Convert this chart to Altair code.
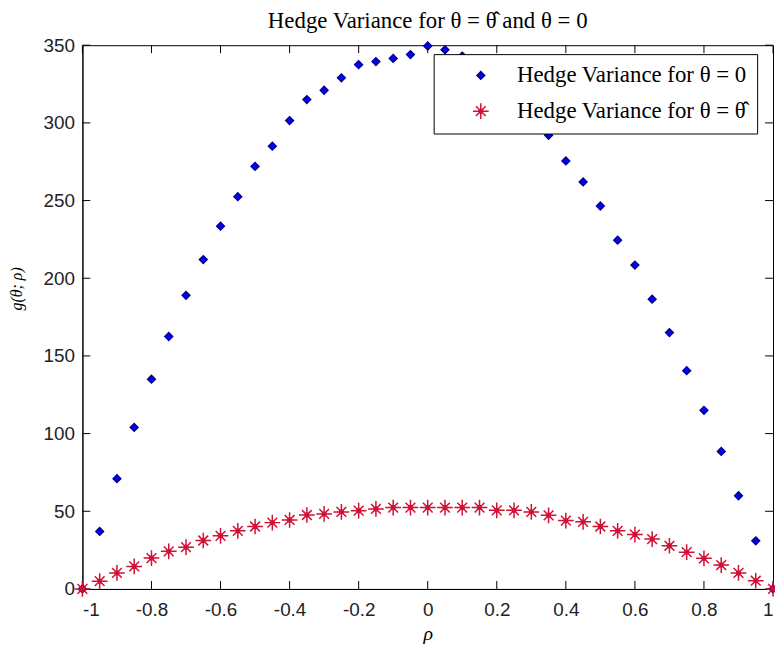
import altair as alt
import pandas as pd

rho = [-1.0, -0.95, -0.9, -0.85, -0.8, -0.75, -0.7, -0.65, -0.6, -0.55, -0.5,
       -0.45, -0.4, -0.35, -0.3, -0.25, -0.2, -0.15, -0.1, -0.05, 0.0,
       0.05, 0.1, 0.15, 0.2, 0.25, 0.3, 0.35, 0.4, 0.45, 0.5,
       0.55, 0.6, 0.65, 0.7, 0.75, 0.8, 0.85, 0.9, 0.95, 1.0]

var_theta0 = [0, 37, 71, 104, 135, 162.5, 189, 212, 233.5, 252.5, 272,
              285, 301.5, 315, 321, 329, 337.5, 339.5, 341.5, 344, 349.5,
              347, 343, 336, 327, 316, 305, 292, 275.5, 262, 246.5,
              224.5, 208.5, 186.5, 165, 140.5, 115, 88.5, 60, 31, 0]

var_thetahat = [0, 5, 10.3, 14.5, 19.9, 24.2, 26.9, 31.2, 34.2, 37.4, 40.2,
                42.7, 44.4, 47.6, 48.3, 49.6, 50.4, 51.5, 52.4, 52.4, 52.4,
                52.4, 52.4, 52.4, 50.6, 50.6, 49.6, 47.4, 44.0, 43.2, 40.2,
                37.4, 35.0, 32.1, 27.8, 23.7, 19.7, 15.4, 10.3, 5.3, 0]

series_names = ["Hedge Variance for θ = 0", "Hedge Variance for θ = θ̂"]
x_ticks = [-1, -0.8, -0.6, -0.4, -0.2, 0, 0.2, 0.4, 0.6, 0.8, 1]
y_ticks = [0, 50, 100, 150, 200, 250, 300, 350]

title_text = "Hedge Variance for θ = θ̂ and θ = 0"

W, H = 696, 548
TICK = 8
ASTERISK = ("M-1,0L1,0M0,-1L0,1M-0.62,-0.62L0.62,0.62M-0.62,0.62L0.62,-0.62"
            "M-0.22,-0.22L0.22,-0.22L0.22,0.22L-0.22,0.22Z")

df = pd.DataFrame({
    "rho": rho * 2,
    "value": var_theta0 + var_thetahat,
    "series": [series_names[0]] * len(rho) + [series_names[1]] * len(rho),
})
df["order"] = [0] * len(rho) + [1] * len(rho)

xdf = pd.DataFrame({"t": x_ticks})
ydf = pd.DataFrame({"t": y_ticks})

xscale = alt.Scale(domain=[-1, 1], nice=False, zero=False)
yscale = alt.Scale(domain=[0, 350], nice=False, zero=False)

legend = alt.Legend(
    title=None, orient="none", legendX=354, legendY=9,
    fillColor="white", strokeColor="black", padding=10,
    rowPadding=12, symbolOffset=26, labelOffset=25,
    labelFont="Liberation Serif", labelFontSize=23, labelColor="black",
    labelLimit=400, cornerRadius=0,
)

points = alt.Chart(df).mark_point(filled=True, strokeWidth=1.5, opacity=1).encode(
    x=alt.X("rho:Q", scale=xscale, axis=alt.Axis(
        values=x_ticks, labelExpr="datum.value + ''", title="ρ",
        titleFont="Liberation Serif", titleFontStyle="italic",
        titleFontSize=20, titleFontWeight="normal", titleColor="black",
        titleY=45, titleBaseline="middle")),
    y=alt.Y("value:Q", scale=yscale, axis=alt.Axis(
        values=y_ticks, labelExpr="datum.value + ''", title="g(θ; ρ)",
        titleFont="Liberation Serif", titleFontStyle="italic",
        titleFontSize=16, titleFontWeight="normal", titleColor="black",
        titleX=-66, titleY=245, titleAngle=270, titleAlign="center",
        titleBaseline="middle")),
    fill=alt.Fill("series:N", scale=alt.Scale(domain=series_names, range=["#0000ff", "#ff0a3c"]), legend=legend),
    stroke=alt.Stroke("series:N", scale=alt.Scale(domain=series_names, range=["#000090", "#d01034"]), legend=legend),
    shape=alt.Shape("series:N", scale=alt.Scale(domain=series_names, range=["diamond", ASTERISK]), legend=legend),
    size=alt.Size("series:N", scale=alt.Scale(domain=series_names, range=[60, 250]), legend=legend),
    order=alt.Order("order:Q"),
)

bottom_ticks = alt.Chart(xdf).mark_rule(color="black", strokeWidth=1).encode(
    x=alt.X("t:Q", scale=xscale), y=alt.value(H), y2=alt.value(H - TICK))
top_ticks = alt.Chart(xdf).mark_rule(color="black", strokeWidth=1).encode(
    x=alt.X("t:Q", scale=xscale), y=alt.value(0), y2=alt.value(TICK))
left_ticks = alt.Chart(ydf).mark_rule(color="black", strokeWidth=1).encode(
    y=alt.Y("t:Q", scale=yscale), x=alt.value(0), x2=alt.value(TICK))
right_ticks = alt.Chart(ydf).mark_rule(color="black", strokeWidth=1).encode(
    y=alt.Y("t:Q", scale=yscale), x=alt.value(W), x2=alt.value(W - TICK))

chart = alt.layer(bottom_ticks, top_ticks, left_ticks, right_ticks, points).properties(
    width=W, height=H,
    title=alt.TitleParams(text=title_text, font="Liberation Serif", fontSize=23,
                          fontWeight="normal", color="black", anchor="middle", offset=3),
    autosize=alt.AutoSizeParams(type="none"),
    padding={"left": 75, "top": 35, "right": 2, "bottom": 57},
    background="white",
).configure_view(
    stroke="black", strokeWidth=1,
).configure_axis(
    domainColor="black", domainWidth=1, ticks=False, tickSize=0, grid=False,
    labelFont="Liberation Sans", labelFontSize=19, labelColor="#222222",
    labelPadding=12,
).configure_axisY(
    labelPadding=8,
)

chart.save("out.html", embed_options={"renderer": "svg", "actions": False})
